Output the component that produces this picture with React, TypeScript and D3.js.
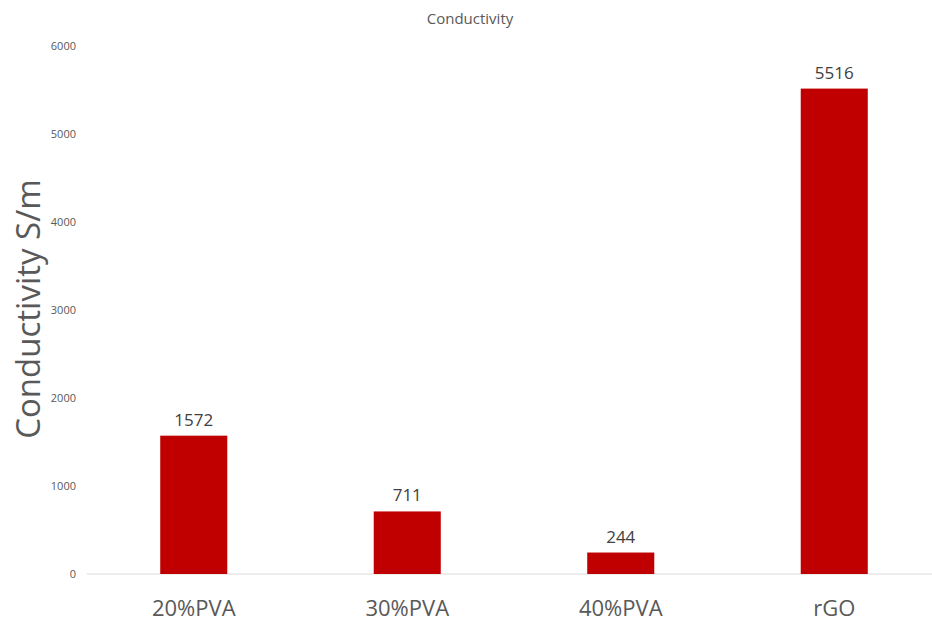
import React from "react";
import * as d3 from "d3";

const categories = ["20%PVA", "30%PVA", "40%PVA", "rGO"];
const values = [1572, 711, 244, 5516];
const yTicks = [0, 1000, 2000, 3000, 4000, 5000, 6000];
const chartTitle = "Conductivity";
const yTitle = "Conductivity S/m";

const W = 932;
const H = 623;
const FONT = "'Open Sans', 'Noto Sans', sans-serif";

export default function App() {
  const x = d3
    .scaleBand<string>()
    .domain(categories)
    .range([87, 941])
    .paddingInner(0.686)
    .paddingOuter(0.343);
  const y = d3.scaleLinear().domain([0, 6000]).range([574, 46]);

  return (
    <svg width={W} height={H} style={{ position: "absolute", left: 0, top: 0, background: "#fff" }}>
      <rect x={0} y={0} width={W} height={H} fill="#fff" />
      <text x={470} y={24} textAnchor="middle" fontFamily={FONT} fontSize={15} fill="#595959">
        {chartTitle}
      </text>
      {yTicks.map((t) => (
        <text key={t} x={76} y={y(t) + 4} textAnchor="end" fontFamily={FONT} fontSize={11} fill="#595959">
          {t}
        </text>
      ))}
      <text
        transform={`translate(40,${y(0) - 265}) rotate(-90)`}
        textAnchor="middle"
        fontFamily={FONT}
        fontSize={33}
        fill="#595959"
      >
        {yTitle}
      </text>
      <line x1={87} x2={W} y1={y(0)} y2={y(0)} stroke="#d9d9d9" strokeWidth={1} />
      {categories.map((c, i) => (
        <g key={c}>
          <rect x={x(c)} y={y(values[i])} width={x.bandwidth()} height={y(0) - y(values[i])} fill="#c00000" />
          <text
            x={(x(c) as number) + x.bandwidth() / 2}
            y={y(values[i]) - 10}
            textAnchor="middle"
            fontFamily={FONT}
            fontSize={17}
            fill="#404040"
          >
            {values[i]}
          </text>
          <text
            x={(x(c) as number) + x.bandwidth() / 2}
            y={616}
            textAnchor="middle"
            fontFamily={FONT}
            fontSize={22}
            fill="#595959"
          >
            {c}
          </text>
        </g>
      ))}
    </svg>
  );
}
